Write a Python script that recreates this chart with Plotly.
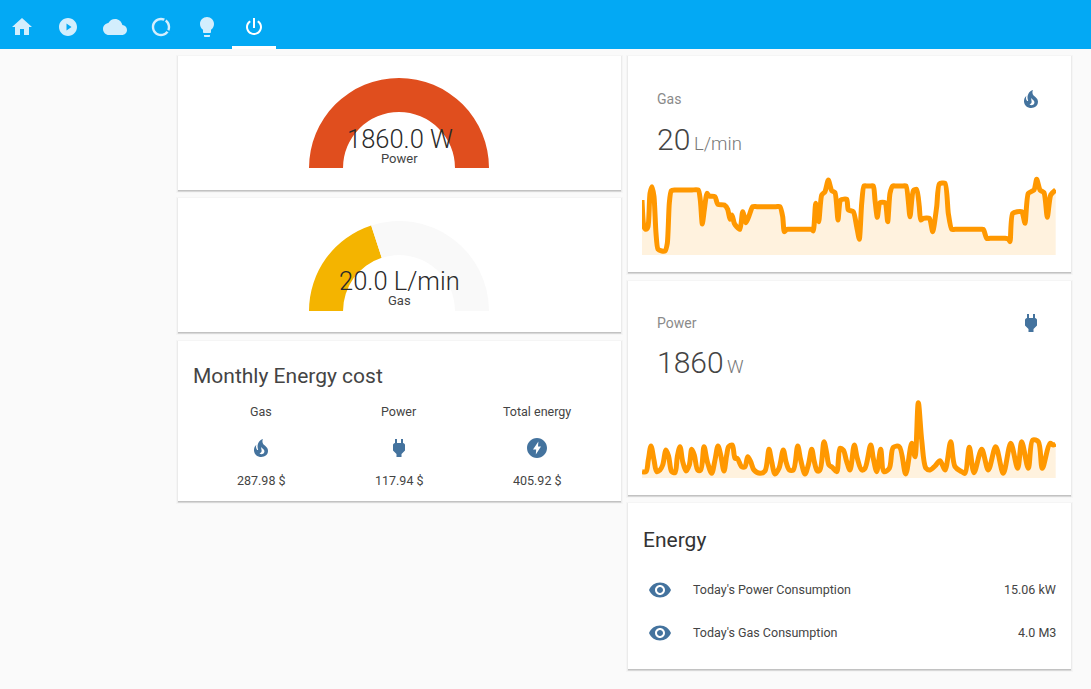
import re
import plotly.graph_objects as go

W, H = 1091, 689
FONT = "Roboto"

gas_minutes = [0,2,4,6,8,10,12,14,16,19.7,23,25.3,27.3,29.3,33,38,44,50,56.3,58.3,60.3,62.3,65,67.3,73,75.7,82.3,85.7,88,90,92.3,94.7,98,100.7,104,107.3,110.7,115,125,134,138,140.7,142.3,144.7,148,158,166,169.7,171.3,173.7,176.7,179.7,183,186.3,189.7,193,196,198.7,204.7,206.3,211.3,214.7,217.3,219.7,222,225,228,231.3,233,235.3,238,243,245.7,248,250.7,254,260,264,268,271.3,274.7,277.3,278.7,281.3,287.3,290.7,294.7,297.3,303,306.3,309.7,313,325,338,341.3,344.7,348,355,363,366.3,368,370.7,379.7,383,386.3,392,394.7,398,402,405.3,408.7,413.7]
gas_lpm = [16.5,8.5,7.7,8.5,18.5,20.5,17.5,6.5,1.7,1.2,1.2,3.5,15.5,19.3,19.5,19.5,19.5,19.5,19.5,16.5,9.3,13.5,18.5,17.7,17.5,15.2,15,13.7,10.7,12,9.5,8.5,7.7,13,9.7,12,14.5,14.5,14.5,14.5,14.5,11.5,7,7.7,7.7,7.7,7.7,7.7,7.2,15.5,10,18,19,22.5,19.3,18.7,10.5,16.5,16.7,13.5,13,8.5,4.7,15.5,20.7,20.7,20.7,20.7,16.5,11.3,15.7,15.7,10,18.5,20.7,20.7,20.7,20.7,11.5,19.3,19.7,14.5,10.5,11,11,7,14.5,21.3,21.5,12.5,7.7,7.7,7.7,7.7,7.7,5,5,5,5,4.8,4,12.5,13,9.5,18.5,19.5,22.7,19.5,18.7,11.3,18,19.5]

power_minutes = [0,4,6.3,9,12,14.7,18,20.7,24,26.7,29.7,33,35.3,38,40.7,44,47.3,49.7,52.3,55.7,58.7,62,65.3,69.7,73,76,78.7,82,84.7,86.7,90.3,93,95.3,99.7,103,105.7,108.7,112,118,123,127,129.7,133,137,141.3,144,147.3,151.3,155.7,158.7,163,166.3,169.7,172.3,175.3,178,182,184.7,187,190.3,194.7,198,201.3,204.7,208,212.3,215.3,219.7,223,228.7,231.3,234.7,238.7,242,247.3,251.3,257.3,263.7,269.7,273,276.3,279.7,284,288,293,298,303,308.7,313,319.7,323,327.3,332,339.7,346.3,353.7,361.3,368.7,375.7,379.7,386.3,390.7,396.3,400.3,408,411.3,413.7]
power_watts = [342,342,972,1728,972,342,432,702,1512,1152,342,288,1152,1692,882,378,702,1548,1242,432,432,1692,882,252,972,1728,1242,378,1242,1692,1782,1062,1062,612,612,1152,882,432,252,378,1548,882,216,522,1512,882,432,432,1728,972,216,702,1548,882,378,432,1962,1332,702,576,342,1602,1512,882,432,1782,1062,432,522,1782,1062,342,1548,342,522,1656,1692,216,1872,1152,4068,2052,522,432,648,936,432,1962,612,342,252,1656,288,1548,432,1692,252,1872,522,1962,522,2052,1962,522,1872,1782,1836]

gauge_power_value = [1860]
gauge_gas_value = [20, 30]
cost_labels = ["Gas", "Power", "Total energy"]
cost_values = ["287.98 $", "117.94 $", "405.92 $"]
energy_labels = ["Today's Power Consumption", "Today's Gas Consumption"]
energy_values = ["15.06 kW", "4.0 M3"]

HEADER = "#03a9f4"
NAV = "#d3eefd"
ICON = "#44739e"
ORANGE = "#ff9800"
FILL = "rgba(255,152,0,0.13)"


def circle(cx, cy, r):
    k = 0.5523 * r
    return (f"M{cx} {cy-r} C{cx+k} {cy-r} {cx+r} {cy-k} {cx+r} {cy} "
            f"C{cx+r} {cy+k} {cx+k} {cy+r} {cx} {cy+r} "
            f"C{cx-k} {cy+r} {cx-r} {cy+k} {cx-r} {cy} "
            f"C{cx-r} {cy-k} {cx-k} {cy-r} {cx} {cy-r} Z")


ICONS = {
    "home": "M10 20 L10 14 L14 14 L14 20 L19 20 L19 12 L22 12 L12 3 L2 12 L5 12 L5 20 Z",
    "play": circle(12, 12, 9) + " M10.5 15.5 L15.5 12 L10.5 8.5 Z",
    "cloud": "M19.35 10.04 C18.67 6.59 15.64 4 12 4 C9.11 4 6.6 5.64 5.35 8.04 C2.34 8.36 0 10.91 0 14 C0 17.31 2.69 20 6 20 L19 20 C21.76 20 24 17.76 24 15 C24 12.36 21.95 10.22 19.35 10.04 Z",
    "ring": circle(12, 12, 9.2) + " " + circle(12, 12, 6.8),
    "bulb": "M12 2 C8.13 2 5 5.13 5 9 C5 11.38 6.19 13.47 8 14.74 L8 17 C8 17.55 8.45 18 9 18 L15 18 C15.55 18 16 17.55 16 17 L16 14.74 C17.81 13.47 19 11.38 19 9 C19 5.13 15.87 2 12 2 Z M9 21 C9 21.55 9.45 22 10 22 L14 22 C14.55 22 15 21.55 15 21 L15 20 L9 20 Z",
    "power": "M13 3 L11 3 L11 13 L13 13 Z M16.56 5.44 L15.11 6.89 C16.84 7.94 18 9.83 18 12 C18 15.31 15.31 18 12 18 C8.69 18 6 15.31 6 12 C6 9.83 7.16 7.94 8.88 6.88 L7.44 5.44 C5.36 6.88 4 9.28 4 12 C4 16.42 7.58 20 12 20 C16.42 20 20 16.42 20 12 C20 9.28 18.64 6.88 16.56 5.44 Z",
    "fire": "M17.66 11.2 C17.43 10.9 17.15 10.64 16.89 10.38 C16.22 9.78 15.46 9.35 14.82 8.72 C13.33 7.26 13 4.85 13.95 3 C13 3.23 12.17 3.75 11.46 4.32 C8.87 6.4 7.85 10.07 9.07 13.22 C9.11 13.32 9.15 13.42 9.15 13.55 C9.15 13.77 9 13.97 8.8 14.05 C8.57 14.15 8.33 14.09 8.14 13.93 C8.08 13.88 8.04 13.83 8 13.76 C6.87 12.33 6.69 10.28 7.45 8.64 C5.78 10 4.87 12.3 5 14.47 C5.06 14.97 5.12 15.47 5.29 15.97 C5.43 16.57 5.7 17.17 6 17.7 C7.08 19.43 8.95 20.67 10.96 20.92 C13.1 21.19 15.39 20.8 17.03 19.32 C18.86 17.66 19.5 15 18.56 12.72 L18.43 12.46 C18.22 12 17.66 11.2 17.66 11.2 Z M14.5 17.5 C14.22 17.74 13.76 18 13.4 18.1 C12.28 18.5 11.16 17.94 10.5 17.28 C11.69 17 12.4 16.12 12.61 15.23 C12.78 14.43 12.46 13.77 12.33 13 C12.21 12.26 12.23 11.63 12.5 10.94 C12.69 11.32 12.89 11.7 13.13 12 C13.9 13 15.11 13.44 15.37 14.8 C15.41 14.94 15.43 15.08 15.43 15.23 C15.46 16.05 15.1 16.95 14.5 17.5 Z",
    "plug": "M16 7 L16 3 L14 3 L14 7 L10 7 L10 3 L8 3 L8 7 C7 7 6 8 6 9 L6 14.5 L9.5 18 L9.5 21 L14.5 21 L14.5 18 L18 14.5 L18 9 C18 8 17 7 16 7 Z",
    "flash": circle(12, 12, 10) + " M10.8 18.5 L11.2 13.5 L8 13.5 L13.4 5.5 L13 10.5 L16 10.5 Z",
    "eye": "M12 4.5 C7 4.5 2.73 7.61 1 12 C2.73 16.39 7 19.5 12 19.5 C17 19.5 21.27 16.39 23 12 C21.27 7.61 17 4.5 12 4.5 Z " + circle(12, 12, 5) + " " + circle(12, 12, 3),
}


def place(name, cx, cy, s=1.0):
    toks = re.findall(r"[MLCZ]|-?\d+\.?\d*", ICONS[name])
    out, i = [], 0
    for t in toks:
        if t in "MLCZ":
            out.append(t)
            i = 0
        else:
            v = float(t)
            out.append(f"{(cx if i % 2 == 0 else cy) + (v - 12) * s:.3f}")
            i += 1
    return " ".join(out)


shapes = []


def rect(x0, y0, x1, y1, color):
    shapes.append(dict(type="rect", xref="x", yref="y", x0=x0, y0=y0, x1=x1, y1=y1,
                       fillcolor=color, line=dict(width=0), layer="below"))


def card(x0, y0, x1, y1):
    rect(x0 - 2, y0 - 1, x1 + 2, y1 + 3, "rgba(0,0,0,0.02)")
    rect(x0 - 1, y0, x1 + 1, y1 + 2, "rgba(0,0,0,0.04)")
    rect(x0, y0, x1, y1 + 2, "rgba(0,0,0,0.08)")
    rect(x0, y0, x1, y1 + 1, "rgba(0,0,0,0.10)")
    rect(x0, y0, x1, y1, "#ffffff")


def icon(name, cx, cy, color, s=1.0):
    shapes.append(dict(type="path", xref="x", yref="y", path=place(name, cx, cy, s),
                       fillcolor=color, line=dict(width=0), fillrule="evenodd", layer="below"))


rect(0, 0, W, 49, HEADER)
rect(232, 46, 276, 49, "#ffffff")
for c in [(178, 56, 621, 190), (178, 198, 621, 332), (178, 341, 621, 501),
          (628, 56, 1071, 272), (628, 281, 1071, 495), (628, 503, 1071, 669)]:
    card(*c)

icon("home", 22, 27, NAV)
icon("play", 68, 27, NAV)
icon("cloud", 115, 27, NAV)
icon("ring", 161, 27, NAV)
for seg in ["M164 21.8 L166.5 17.5", "M166.2 30 L170.5 32.5"]:
    shapes.append(dict(type="path", xref="x", yref="y", path=seg,
                       line=dict(color=HEADER, width=1.6), layer="below"))
icon("bulb", 207, 27, NAV)
icon("power", 254, 27, "#ffffff")
icon("fire", 1031, 99, ICON)
icon("plug", 1031, 323, ICON)
icon("fire", 261, 448, ICON)
icon("plug", 399, 448, ICON)
icon("flash", 537, 448, ICON)
icon("eye", 660, 590, ICON)
icon("eye", 660, 633, ICON)


annotations = []


def text(s, x, y, size, color="#212121", anchor="center", weight=None):
    f = dict(family=FONT, size=size, color=color)
    if weight:
        f["weight"] = weight
    if anchor == "left":
        x -= 1.5
    if anchor == "right":
        x += 1
    annotations.append(dict(text=s, x=x, y=y, xref="x", yref="y", showarrow=False,
                            xanchor=anchor, yanchor="middle", font=f, borderpad=0))


text("1860.0 W", 399.5, 139, 25.5, "#2a2a2a", weight=300)
text("Power", 399.5, 158, 13, "#444444")
text("20.0 L/min", 399.5, 281, 25.5, "#2a2a2a", weight=300)
text("Gas", 399.5, 300, 13, "#444444")
text("Monthly Energy cost", 193, 376, 21, "#444444", "left")
for lab, val, cx in zip(cost_labels, cost_values, [261, 399, 537]):
    text(lab, cx, 411, 12.5, "#444444")
    text(val, cx, 480, 12.5, "#444444")
text("Gas", 657, 99, 14, "#8a8a8a", "left")
text("20", 657, 139, 30, "#444444", "left", 300)
text("L/min", 694, 143.5, 18.5, "#777777", "left", 300)
text("Power", 657, 323, 14, "#8a8a8a", "left")
text("1860", 657, 362, 30, "#444444", "left", 300)
text("W", 727, 367, 18.5, "#777777", "left", 300)
text("Energy", 643, 540, 21, "#333333", "left")
for lab, val, cy in zip(energy_labels, energy_values, [589.5, 632.5]):
    text(lab, 693, cy, 12.5, "#444444", "left")
    text(val, 1056, cy, 12.5, "#444444", "right")


def dom_x(a, b):
    return [a / W, b / W]


def dom_y(top, bottom):
    return [1 - bottom / H, 1 - top / H]


fig = go.Figure()

# invisible trace so the pixel axes exist
fig.add_trace(go.Scatter(x=[0, W], y=[0, H], mode="none", xaxis="x", yaxis="y",
                         showlegend=False, hoverinfo="skip"))

for t, v, xa, ya, sm in [(gas_minutes, gas_lpm, "x2", "y2", 0.6), (power_minutes, power_watts, "x3", "y3", 0.9)]:
    fig.add_trace(go.Scatter(x=t, y=v, xaxis=xa, yaxis=ya, mode="lines", fill="tozeroy",
                             fillcolor=FILL, line=dict(color=ORANGE, width=5, shape="spline", smoothing=sm),
                             showlegend=False, hoverinfo="skip"))

fig.add_trace(go.Pie(values=[gauge_power_value[0], gauge_power_value[0]], sort=False, direction="clockwise",
                     rotation=-90, hole=0.622, textinfo="none", hoverinfo="skip", showlegend=False,
                     marker=dict(colors=["#e04e1e", "rgba(0,0,0,0)"], line=dict(width=0)),
                     domain=dict(x=dom_x(309, 489), y=dom_y(78, 258))))
fig.add_trace(go.Pie(values=[gauge_gas_value[0], gauge_gas_value[1], sum(gauge_gas_value)], sort=False,
                     direction="clockwise", rotation=-90, hole=0.622, textinfo="none", hoverinfo="skip",
                     showlegend=False,
                     marker=dict(colors=["#f4b400", "#f9f9f9", "rgba(0,0,0,0)"], line=dict(width=0)),
                     domain=dict(x=dom_x(309, 489), y=dom_y(221, 401))))

hidden = dict(visible=False, fixedrange=True)
fig.update_layout(
    width=W, height=H, margin=dict(l=0, r=0, t=0, b=0, pad=0), autosize=False,
    paper_bgcolor="#fafafa", plot_bgcolor="rgba(0,0,0,0)", showlegend=False,
    xaxis=dict(domain=[0, 1], range=[0, W], **hidden),
    yaxis=dict(domain=[0, 1], range=[H, 0], **hidden),
    xaxis2=dict(domain=dom_x(642, 1056), range=[0, 414], anchor="y2", **hidden),
    yaxis2=dict(domain=dom_y(170, 255), range=[0, 25.5], anchor="x2", **hidden),
    xaxis3=dict(domain=dom_x(642, 1056), range=[0, 414], anchor="y3", **hidden),
    yaxis3=dict(domain=dom_y(390, 478), range=[0, 4752], anchor="x3", **hidden),
    shapes=shapes, annotations=annotations,
)

fig.write_html("out.html", config=dict(displayModeBar=False, staticPlot=True),
               post_script="document.body.style.margin='0';document.body.style.background='#fafafa';document.documentElement.style.overflow='hidden';")
